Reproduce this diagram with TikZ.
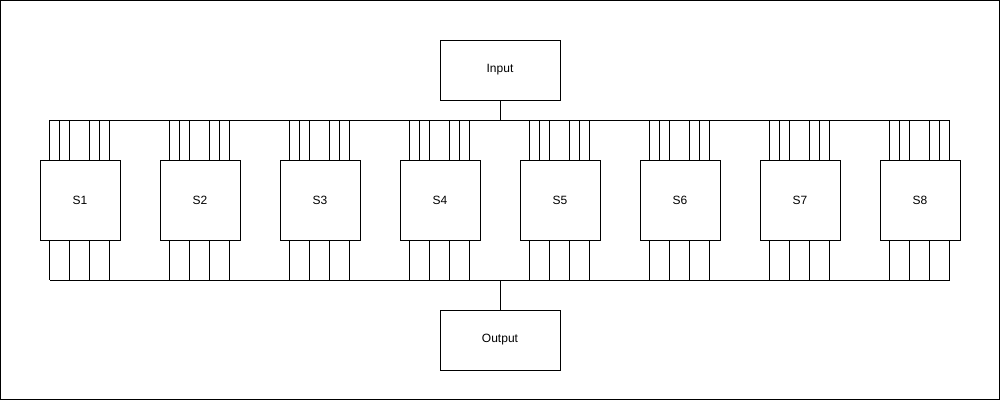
\documentclass[tikz,border=0pt]{standalone}
\usepackage{fontspec}
\setmainfont{Liberation Sans}
\usetikzlibrary{calc}
\begin{document}
\begin{tikzpicture}[x=0.75pt,y=-0.75pt,line width=0.75pt,
  box/.style={draw=black,fill=white,minimum width=60pt,minimum height=60pt,inner sep=0pt,font=\fontsize{9}{11}\selectfont},
  iobox/.style={draw=black,fill=white,minimum width=90pt,minimum height=45pt,inner sep=0pt,font=\fontsize{9}{11}\selectfont},
  wire/.style={draw=black,line width=0.75pt}]
\useasboundingbox (0,0) rectangle (1001,401);
\draw[black] (0.5,0.5) rectangle (999.5,399.5);
\node[iobox] (in) at (500,70) {Input};
\node[iobox] (out) at (500,340) {Output};
\coordinate (tbL) at (50,120);
\coordinate (tbR) at (950,120);
\coordinate (bbL) at (50,280);
\coordinate (bbR) at (950,280);
\draw[wire] (tbL) -- (tbR);
\draw[wire] (bbL) -- (bbR);
\draw[wire] (in.south) -- (in.south |- tbL);
\draw[wire] (out.north) -- (out.north |- bbL);
\foreach \i in {1,...,8}{
  \node[box] (s\i) at ({80+120*(\i-1)},200) {S\i};
  \foreach \d in {10,20,30,50,60,70}{
    \coordinate (t) at ($(s\i.north west)+(\d,0)$);
    \draw[wire] (t) -- (t |- tbL);
  }
  \foreach \d in {10,30,50,70}{
    \coordinate (b) at ($(s\i.south west)+(\d,0)$);
    \draw[wire] (b) -- (b |- bbL);
  }
}
\end{tikzpicture}
\end{document}
